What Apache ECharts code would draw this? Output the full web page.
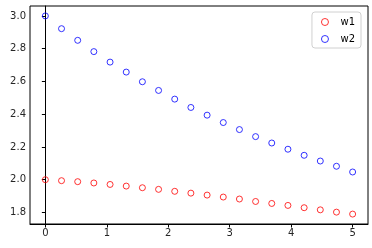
<!DOCTYPE html>
<html><head><meta charset="utf-8">
<script src="https://cdn.jsdelivr.net/npm/echarts@6/dist/echarts.min.js"></script>
<style>html,body{margin:0;padding:0;background:#fff}#c{width:372px;height:248px}</style>
</head><body><div id="c"></div>
<script>
var xs = [0, 0.263, 0.526, 0.789, 1.053, 1.316, 1.579, 1.842, 2.105, 2.368, 2.632, 2.895, 3.158, 3.421, 3.684, 3.947, 4.211, 4.474, 4.737, 5];
var w1 = [2.0, 1.994, 1.988, 1.980, 1.971, 1.961, 1.951, 1.941, 1.929, 1.918, 1.906, 1.894, 1.882, 1.867, 1.855, 1.843, 1.829, 1.816, 1.802, 1.790];
var w2 = [3.0, 2.922, 2.851, 2.782, 2.718, 2.657, 2.598, 2.545, 2.492, 2.441, 2.394, 2.349, 2.306, 2.263, 2.224, 2.186, 2.149, 2.114, 2.082, 2.047];
var xTicks = [0, 1, 2, 3, 4, 5];
var yTicks = [1.8, 2.0, 2.2, 2.4, 2.6, 2.8, 3.0];
function pairs(ys){ return xs.map(function(x,i){ return [x, ys[i]]; }); }
var font = 'DejaVu Sans';
var chart = echarts.init(document.getElementById('c'));
chart.setOption({
  animation: false,
  grid: {left: 30, right: 4, top: 6, bottom: 24, show: true, borderColor: '#000', borderWidth: 1},
  legend: {
    orient: 'vertical', right: 11, top: 12,
    itemWidth: 7, itemHeight: 7, itemGap: 7,
    padding: [5, 6, 4, 9],
    borderColor: '#d0d0d0', borderWidth: 1, borderRadius: 3,
    textStyle: {fontFamily: font, fontSize: 10, color: '#000', padding: [0, 0, 0, 7]},
    data: [
      {name: 'w1', icon: 'circle', itemStyle: {color: 'rgba(0,0,0,0)', borderColor: '#ff0000', borderWidth: 1}},
      {name: 'w2', icon: 'circle', itemStyle: {color: 'rgba(0,0,0,0)', borderColor: '#0000ff', borderWidth: 1}}
    ]
  },
  xAxis: {
    type: 'value', min: -0.25, max: 5.25,
    splitLine: {show: false},
    axisLine: {lineStyle: {color: '#000'}},
    axisTick: {length: 3.5, lineStyle: {color: '#000'}, customValues: xTicks},
    axisLabel: {fontFamily: font, fontSize: 10, color: '#262626', margin: 4, customValues: xTicks}
  },
  yAxis: {
    type: 'value', min: 1.7295, max: 3.0605,
    splitLine: {show: false},
    axisLine: {show: true, lineStyle: {color: '#000'}},
    axisTick: {show: true, length: 3.5, lineStyle: {color: '#000'}, customValues: yTicks},
    axisLabel: {fontFamily: font, fontSize: 10, color: '#262626', margin: 4, customValues: yTicks,
      formatter: function(v){ return v.toFixed(1); }}
  },
  series: [
    {name: 'w1', type: 'scatter', data: pairs(w1), symbol: 'circle', symbolSize: 6,
     itemStyle: {color: 'rgba(0,0,0,0)', borderColor: '#ff0000', borderWidth: 1}},
    {name: 'w2', type: 'scatter', data: pairs(w2), symbol: 'circle', symbolSize: 6,
     itemStyle: {color: 'rgba(0,0,0,0)', borderColor: '#0000ff', borderWidth: 1}}
  ]
});
</script></body></html>
